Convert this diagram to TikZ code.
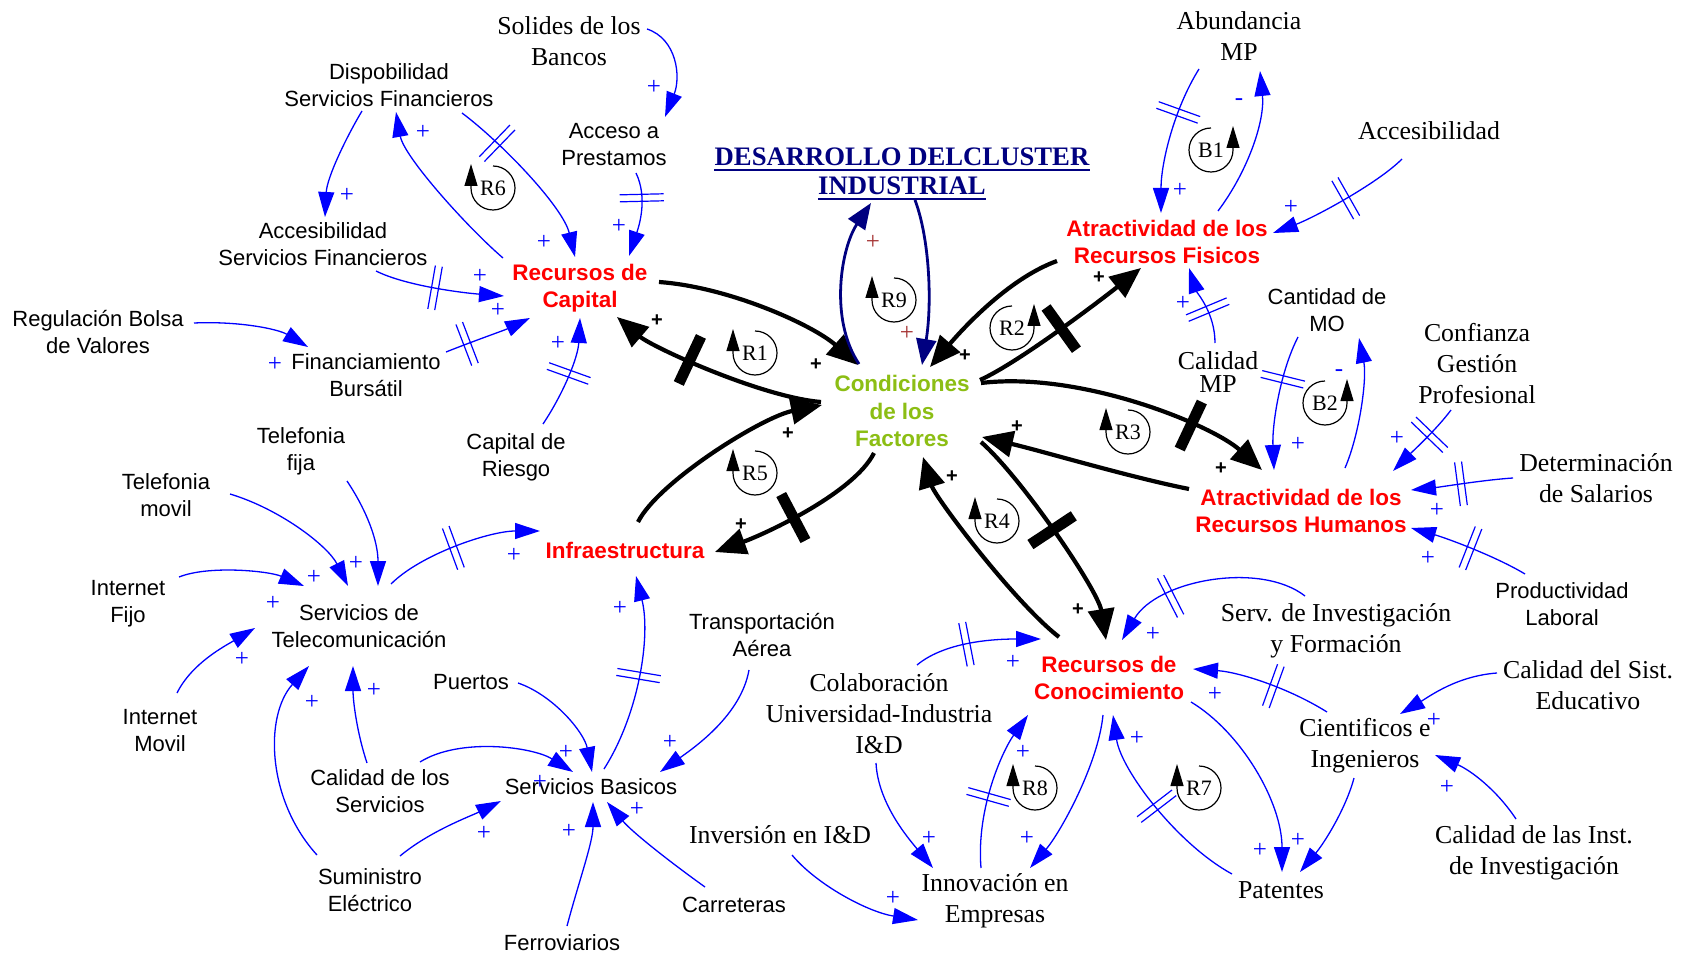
\documentclass[tikz,border=0pt]{standalone}
\usepackage{fontspec}
\setmainfont{Liberation Serif}
\setsansfont{Liberation Sans}
\usetikzlibrary{arrows.meta,decorations.markings,calc}
\definecolor{kblue}{RGB}{0,0,255}
\definecolor{kred}{RGB}{255,0,0}
\definecolor{kgreen}{RGB}{140,190,20}
\definecolor{knavy}{RGB}{0,0,128}
\definecolor{kbrown}{RGB}{165,50,50}
\newcounter{plc}
\newcommand\mkbp[2]{\stepcounter{plc}\node[bpl] (pl\arabic{plc}) at (#1,#2) {+};}
\newcommand\mkbm[2]{\stepcounter{plc}\node[bpl] (pl\arabic{plc}) at (#1,#2) {-};}
\newcommand\mkkp[2]{\stepcounter{plc}\node[kpl] (pl\arabic{plc}) at (#1,#2) {+};}
\newcommand\mkrp[2]{\stepcounter{plc}\node[rpl] (pl\arabic{plc}) at (#1,#2) {+};}
\tikzset{
  sl/.style={font=\fontsize{25.8}{31}\selectfont,align=center,inner sep=0pt},
  ss/.style={font=\sffamily\fontsize{22}{27}\selectfont,align=center,inner sep=0pt},
  kr/.style={font=\sffamily\bfseries\fontsize{22.5}{27.5}\selectfont,text=kred,align=center,inner sep=0pt},
  kg/.style={font=\sffamily\bfseries\fontsize{22.5}{27.5}\selectfont,text=kgreen,align=center,inner sep=0pt},
  ttl/.style={font=\bfseries\fontsize{26.7}{29}\selectfont,text=knavy,inner sep=0pt},
  bpl/.style={font=\fontsize{25}{25}\selectfont,text=kblue,inner sep=0pt},
  kpl/.style={font=\sffamily\bfseries\fontsize{20}{20}\selectfont,text=black,inner sep=0pt},
  rpl/.style={font=\fontsize{25}{25}\selectfont,text=kbrown,inner sep=0pt},
  ba/.style={draw=kblue,line width=1.3pt,-{Triangle[length=25pt,width=16pt]}},
  ka/.style={draw=black,line width=4.2pt,-{Triangle[length=31pt,width=26pt]}},
  na/.style={draw=knavy,line width=2.8pt,-{Triangle[length=26pt,width=20pt]}},
  dly/.style={postaction={decorate,decoration={markings,mark=at position #1 with {\draw[-,draw=kblue,line width=1.2pt] (-3.5,-22)--(-3.5,22) (3.5,-22)--(3.5,22);}}}},
  kdly/.style={postaction={decorate,decoration={markings,mark=at position #1 with {\fill[black] (-5.5,-26) rectangle (5.5,26);}}}},
  lt/.style={font=\fontsize{22}{22}\selectfont,inner sep=0pt},
  pics/loopL/.style={code={\draw[line width=1.2pt,-{Triangle[length=22pt,width=13pt]}] (0,-22) arc[start angle=-90,end angle=180,radius=22] -- ++(0,-24); \node[lt] (-lab) at (0,0) {#1};}},
  pics/loopR/.style={code={\draw[line width=1.2pt,-{Triangle[length=22pt,width=13pt]}] (0,-22) arc[start angle=-90,end angle=-360,radius=22] -- ++(0,-24); \node[lt] (-lab) at (0,0) {#1};}},
}
\begin{document}
\begin{tikzpicture}[x=1pt,y=-1pt]
\fill[white] (0,0) rectangle (1683,957);
\useasboundingbox (0,0) rectangle (1683,957);
% nodes
\node[sl] (sol) at (569,41) {Solides de los\\Bancos};
\node[ss] (dsf) at (389,85) {Dispobilidad\\Servicios Financieros};
\node[ss] (acp) at (614,145) {Acceso a\\Prestamos};
\node[ss] (asf) at (323,244) {Accesibilidad\\Servicios Financieros};
\node[kr] (rcap) at (580,288) {Recursos de\\Capital};
\node[ss] (reg) at (98,332) {Regulación Bolsa\\de Valores};
\node[ss] (fin) at (366,375) {Financiamiento\\Bursátil};
\node[ss] (crie) at (516,457) {Capital de\\Riesgo};
\node[ss] (tfija) at (301,451) {Telefonia\\fija};
\node[ss] (tmov) at (166,495) {Telefonia\\movil};
\node[ss] (ifijo) at (128,604) {Internet\\Fijo};
\node[ss] (stel) at (359,626) {Servicios de\\Telecomunicación};
\node[ss] (imov) at (160,731) {Internet\\Movil};
\node[kr] (infra) at (625,550) {Infraestructura};
\node[ss] (puer) at (471,682) {Puertos};
\node[ss] (cser) at (380,791) {Calidad de los\\Servicios};
\node[ss] (sbas) at (591,787) {Servicios Basicos};
\node[ss] (sumi) at (370,890) {Suministro\\Eléctrico};
\node[ss] (ferr) at (562,943) {Ferroviarios};
\node[ss] (carr) at (734,905) {Carreteras};
\node[ss] (taer) at (762,635) {Transportación\\Aérea};
\node[ttl] (t1) at (902,157) {DESARROLLO DELCLUSTER};
\node[ttl] (t2) at (902,186) {INDUSTRIAL};
\draw[knavy,line width=2.2pt] ([yshift=-4pt]t1.base west) -- ([yshift=-4pt]t1.base east);
\draw[knavy,line width=2.2pt] ([yshift=-4pt]t2.base west) -- ([yshift=-4pt]t2.base east);
\node[kg] (cond) at (902,411) {Condiciones\\de los\\Factores};
\node[sl] (abun) at (1239,36) {Abundancia\\MP};
\node[sl] (acce) at (1429,131) {Accesibilidad};
\node[kr] (arf) at (1167,242) {Atractividad de los\\Recursos Fisicos};
\node[ss] (cmo) at (1327,310) {Cantidad de\\MO};
\node[sl,font=\fontsize{25.8}{23}\selectfont] (cmp) at (1218,372) {Calidad\\MP};
\node[sl] (conf) at (1477,364) {Confianza\\Gestión\\Profesional};
\node[sl] (dsal) at (1596,478) {Determinación\\de Salarios};
\node[kr] (arh) at (1301,511) {Atractividad de los\\Recursos Humanos};
\node[ss] (prod) at (1562,604) {Productividad\\Laboral};
\node[sl] (serv) at (1336,631) {Serv. de Investigación\\y Formación};
\node[sl] (csis) at (1588,685) {Calidad del Sist.\\Educativo};
\node[sl] (cien) at (1365,746) {Cientificos e\\Ingenieros};
\node[sl] (cinst) at (1534,853) {Calidad de las Inst.\\de Investigación};
\node[sl] (pat) at (1281,890) {Patentes};
\node[kr] (rcon) at (1109,678) {Recursos de\\Conocimiento};
\node[sl] (colab) at (879,714) {Colaboración\\Universidad-Industria\\I\&D};
\node[sl] (inv) at (780,835) {Inversión en I\&D};
\node[sl] (innov) at (995,901) {Innovación en\\Empresas};
% loops
\pic (r1) at (755,353) {loopL=R1};
\pic (r2) at (1012,328) {loopR=R2};
\pic (r3) at (1128,432) {loopL=R3};
\pic (r4) at (997,521) {loopL=R4};
\pic (r5) at (755,473) {loopL=R5};
\pic (r6) at (493,188) {loopL=R6};
\pic (r7) at (1199,788) {loopL=R7};
\pic (r8) at (1035,788) {loopL=R8};
\pic (r9) at (894,300) {loopL=R9};
\pic (b1) at (1211,150) {loopR=B1};
\pic (b2) at (1325,403) {loopR=B2};
% capital cluster
\draw[ba] ($(sol)+(78,-12)$) .. controls +(30,10) and +(16,-40) .. ($(acp)+(51,-28)$);
\draw[ba] ($(dsf)+(-27,26)$) .. controls +(-15,25) and +(2,-40) .. ($(asf)+(2,-27)$);
\draw[ba] ($(rcap)+(-77,-30)$) .. controls +(-35,-30) and +(8,45) .. ($(dsf)+(7,27)$);
\draw[ba,dly=0.25] ($(dsf)+(73,28)$) .. controls +(40,30) and +(-12,-50) .. ($(rcap)+(-5,-31)$);
\draw[ba,dly=0.3] ($(acp)+(22,28)$) .. controls +(12,25) and +(10,-30) .. ($(rcap)+(49,-32)$);
\draw[ba,dly=0.47] ($(asf)+(53,27)$) .. controls +(30,15) and +(-40,-3) .. ($(rcap)+(-76,8)$);
\draw[ba] ($(reg)+(96,-9)$) .. controls +(45,-2) and +(-30,-18) .. ($(fin)+(-58,-28)$);
\draw[ba,dly=0.25] ($(fin)+(80,-23)$) .. controls +(25,-10) and +(-25,12) .. ($(rcap)+(-50,30)$);
\draw[ba,dly=0.5] ($(crie)+(27,-33)$) .. controls +(20,-30) and +(-2,40) .. ($(rcap)+(0,30)$);
% black core
\draw[ka] ($(rcap)+(79,-6)$) .. controls +(70,5) and +(-45,-40) .. ($(cond)+(-44,-46)$);
\draw[ka,kdly=0.62] ($(cond)+(-81,-9)$) .. controls +(-60,-5) and +(35,30) .. ($(rcap)+(37,29)$);
\draw[ka] ($(infra)+(13,-28)$) .. controls +(20,-40) and +(-60,12) .. ($(cond)+(-80,-6)$);
\draw[ka,kdly=0.55] ($(cond)+(-28,42)$) .. controls +(-20,40) and +(50,-18) .. ($(infra)+(90,2)$);
\draw[ka] ($(arf)+(-110,19)$) .. controls +(-50,18) and +(30,-35) .. ($(cond)+(28,-44)$);
\draw[ka,kdly=0.49] ($(cond)+(78,-31)$) .. controls +(40,-18) and +(-35,28) .. ($(arf)+(-26,26)$);
\draw[ka,kdly=0.72] ($(cond)+(79,-28)$) .. controls +(100,-12) and +(-50,-45) .. ($(arh)+(-39,-41)$);
\draw[ka] ($(arh)+(-112,-22)$) .. controls +(-60,-12) and +(60,14) .. ($(cond)+(80,26)$);
\draw[ka] ($(rcon)+(-50,-41)$) .. controls +(-45,-35) and +(12,40) .. ($(cond)+(21,46)$);
\draw[ka,kdly=0.48] ($(cond)+(79,31)$) .. controls +(40,35) and +(-8,-50) .. ($(rcon)+(-3,-38)$);
% title loop
\draw[na] ($(cond)+(-43,-47)$) .. controls +(-30,-45) and +(-30,45) .. ($(t2)+(-31,17)$);
\draw[na] ($(t2)+(13,14)$) .. controls +(15,40) and +(10,-60) .. ($(cond)+(20,-46)$);
% physical / human resources
\draw[ba,dly=0.32] ($(abun)+(-40,33)$) .. controls +(-25,40) and +(0,-50) .. ($(arf)+(-6,-29)$);
\draw[ba] ($(arf)+(51,-31)$) .. controls +(30,-40) and +(5,50) .. ($(abun)+(21,35)$);
\draw[ba,dly=0.46] ($(acce)+(-27,28)$) .. controls +(-25,25) and +(40,-15) .. ($(arf)+(106,-9)$);
\draw[ba,dly=0.43] ($(cmp)+(-3,-29)$) .. controls +(0,-30) and +(8,25) .. ($(arf)+(22,26)$);
\draw[ba,dly=0.33] ($(cmo)+(-29,27)$) .. controls +(-18,35) and +(-2,-45) .. ($(arh)+(-27,-41)$);
\draw[ba] ($(arh)+(44,-43)$) .. controls +(15,-35) and +(8,40) .. ($(cmo)+(32,28)$);
\draw[ba,dly=0.39] ($(conf)+(-26,46)$) .. controls +(-15,20) and +(20,-20) .. ($(arh)+(92,-40)$);
\draw[ba,dly=0.51] ($(dsal)+(-83,0)$) .. controls +(-30,2) and +(30,-3) .. ($(arh)+(110,-21)$);
\draw[ba,dly=0.49] ($(prod)+(-37,-30)$) .. controls +(-30,-18) and +(35,10) .. ($(arh)+(110,17)$);
% knowledge
\draw[ba,dly=0.68] ($(serv)+(-31,-35)$) .. controls +(-45,-35) and +(35,-60) .. ($(rcon)+(13,-38)$);
\draw[ba,dly=0.42] ($(cien)+(-38,-34)$) .. controls +(-40,-25) and +(45,3) .. ($(rcon)+(84,-9)$);
\draw[ba] ($(rcon)+(82,24)$) .. controls +(50,30) and +(0,-70) .. ($(pat)+(1,-18)$);
\draw[ba] ($(cien)+(-11,32)$) .. controls +(-8,30) and +(25,-30) .. ($(pat)+(19,-18)$);
\draw[ba] ($(csis)+(-91,-12)$) .. controls +(-40,3) and +(30,-18) .. ($(cien)+(35,-32)$);
\draw[ba] ($(cinst)+(-18,-34)$) .. controls +(-20,-30) and +(35,15) .. ($(cien)+(70,9)$);
\draw[ba,dly=0.5] ($(pat)+(-49,-16)$) .. controls +(-55,-30) and +(8,55) .. ($(rcon)+(4,37)$);
\draw[ba,dly=0.42] ($(colab)+(38,-49)$) .. controls +(30,-25) and +(-40,0) .. ($(rcon)+(-68,-39)$);
\draw[ba] ($(colab)+(-3,49)$) .. controls +(2,40) and +(-25,-30) .. ($(innov)+(-62,-33)$);
\draw[ba] ($(inv)+(12,20)$) .. controls +(25,30) and +(-50,-8) .. ($(innov)+(-77,19)$);
\draw[ba,dly=0.44] ($(innov)+(-14,-33)$) .. controls +(-5,-60) and +(-25,35) .. ($(rcon)+(-81,37)$);
\draw[ba] ($(rcon)+(-6,37)$) .. controls +(-5,50) and +(30,-35) .. ($(innov)+(35,-33)$);
% infrastructure
\draw[ba] ($(tmov)+(64,-1)$) .. controls +(50,15) and +(-20,-40) .. ($(stel)+(-11,-40)$);
\draw[ba] ($(tfija)+(46,30)$) .. controls +(20,30) and +(0,-45) .. ($(stel)+(19,-40)$);
\draw[ba] ($(ifijo)+(51,-27)$) .. controls +(30,-12) and +(-35,-15) .. ($(stel)+(-55,-40)$);
\draw[ba] ($(imov)+(17,-38)$) .. controls +(15,-30) and +(-30,18) .. ($(stel)+(-104,2)$);
\draw[ba] ($(sumi)+(-53,-35)$) .. controls +(-50,-55) and +(-45,50) .. ($(stel)+(-50,40)$);
\draw[ba] ($(cser)+(-13,-28)$) .. controls +(-10,-30) and +(0,35) .. ($(stel)+(-6,40)$);
\draw[ba,dly=0.45] ($(stel)+(32,-42)$) .. controls +(30,-30) and +(-50,0) .. ($(infra)+(-85,-19)$);
\draw[ba,dly=0.5] ($(sbas)+(13,-18)$) .. controls +(35,-55) and +(15,60) .. ($(infra)+(11,26)$);
\draw[ba] ($(puer)+(47,1)$) .. controls +(35,12) and +(-8,-40) .. ($(sbas)+(1,-15)$);
\draw[ba] ($(cser)+(40,-29)$) .. controls +(40,-25) and +(-40,-25) .. ($(sbas)+(-18,-15)$);
\draw[ba] ($(sumi)+(30,-34)$) .. controls +(30,-25) and +(-30,15) .. ($(sbas)+(-90,14)$);
\draw[ba] ($(ferr)+(5,-17)$) .. controls +(12,-45) and +(0,40) .. ($(sbas)+(2,15)$);
\draw[ba] ($(carr)+(-29,-18)$) .. controls +(-35,-25) and +(25,30) .. ($(sbas)+(16,15)$);
\draw[ba] ($(taer)+(-13,35)$) .. controls +(-8,45) and +(35,-25) .. ($(sbas)+(69,-15)$);
% polarity signs
\mkbp{654}{87}\mkbp{347}{195}\mkbp{423}{132}\mkbp{544}{242}\mkbp{619}{226}
\mkbp{480}{276}\mkbp{275}{364}\mkbp{498}{310}\mkbp{558}{343}
\mkbp{1180}{190}\mkbm{1239}{102}\mkbp{1291}{207}\mkbp{1183}{303}\mkbp{1298}{444}
\mkbm{1339}{373}\mkbp{1397}{438}\mkbp{1437}{510}\mkbp{1428}{558}
\mkbp{1153}{634}\mkbp{1215}{694}\mkbp{1260}{850}\mkbp{1298}{840}\mkbp{1434}{720}
\mkbp{1447}{787}\mkbp{1137}{738}\mkbp{1013}{662}\mkbp{929}{838}\mkbp{893}{898}
\mkbp{1023}{752}\mkbp{1027}{838}
\mkbp{356}{563}\mkbp{314}{577}\mkbp{273}{603}\mkbp{242}{659}\mkbp{312}{702}
\mkbp{374}{690}\mkbp{514}{555}\mkbp{620}{608}\mkbp{566}{752}\mkbp{540}{782}
\mkbp{484}{833}\mkbp{569}{831}\mkbp{637}{809}\mkbp{670}{742}
\mkkp{816}{365}\mkkp{657}{321}\mkkp{788}{434}\mkkp{741}{525}\mkkp{965}{356}
\mkkp{1099}{278}\mkkp{1221}{469}\mkkp{1017}{427}\mkkp{952}{477}\mkkp{1078}{610}
\mkrp{873}{242}\mkrp{907}{333}
\end{tikzpicture}
\end{document}
